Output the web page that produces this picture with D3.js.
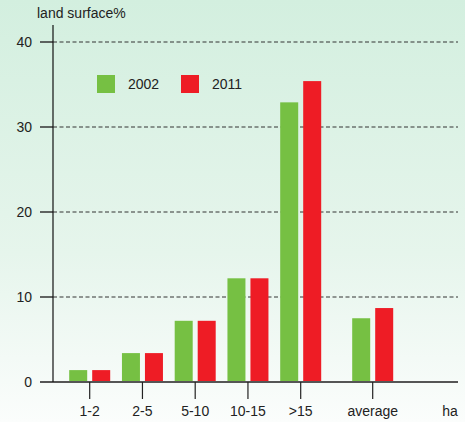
<!DOCTYPE html>
<html>
<head>
<meta charset="utf-8">
<script src="https://cdn.jsdelivr.net/npm/d3@7/dist/d3.min.js"></script>
<style>
  body { margin: 0; padding: 0; }
  svg { display: block; font-family: "Liberation Sans", Arial, sans-serif; }
</style>
</head>
<body>
<svg id="chart" width="465" height="422"></svg>
<script>
// data
var categories = ["1-2", "2-5", "5-10", "10-15", ">15", "average"];
var years = ["2002", "2011"];
var values2002 = [1.4, 3.4, 7.2, 12.2, 32.9, 7.5];
var values2011 = [1.4, 3.4, 7.2, 12.2, 35.4, 8.7];
var yTicks = [0, 10, 20, 30, 40];

var colors = {"2002": "#76c043", "2011": "#ee1c25"};

var width = 465, height = 422;
var fs = 14;
var svg = d3.select("#chart");

// background gradient
var defs = svg.append("defs");
var grad = defs.append("linearGradient")
    .attr("id", "bg")
    .attr("x1", 0).attr("y1", 0).attr("x2", 0).attr("y2", 1);
grad.append("stop").attr("offset", "0%").attr("stop-color", "#d3efdf");
grad.append("stop").attr("offset", "60%").attr("stop-color", "#e6f5ec");
grad.append("stop").attr("offset", "100%").attr("stop-color", "#fbfdfc");
svg.append("rect").attr("width", width).attr("height", height).attr("fill", "url(#bg)");

var y = d3.scaleLinear().domain([0, 40]).range([382, 42]);

// first five groups evenly spaced, "average" sits a bit further out
var x = d3.scalePoint().domain(categories.slice(0, 5)).range([89.7, 300.7]);
function cx(c) {
  if (c == "average") return 372.7;
  return x(c);
}

var barW = 18;

// grid lines
svg.append("g").selectAll("line")
  .data(yTicks.filter(function(d) { return d > 0; }))
  .enter().append("line")
    .attr("x1", 53).attr("x2", 458)
    .attr("y1", function(d) { return y(d); })
    .attr("y2", function(d) { return y(d); })
    .attr("stroke", "#333")
    .attr("stroke-width", 1)
    .attr("stroke-dasharray", "4,2.5");

// y ticks + labels
var yt = svg.append("g");
yt.selectAll("line").data(yTicks).enter().append("line")
    .attr("x1", 40).attr("x2", 53)
    .attr("y1", function(d) { return y(d); })
    .attr("y2", function(d) { return y(d); })
    .attr("stroke", "#333").attr("stroke-width", 1.5);
yt.selectAll("text").data(yTicks).enter().append("text")
    .attr("x", 32)
    .attr("y", function(d) { return y(d); })
    .attr("dy", "0.35em")
    .attr("text-anchor", "end")
    .attr("font-size", fs)
    .attr("fill", "#222")
    .text(function(d) { return d; });

// bars
var bars = svg.append("g");
categories.forEach(function(c, i) {
  var c0 = cx(c);
  bars.append("rect")
    .attr("x", c0 - 20.5).attr("width", barW)
    .attr("y", y(values2002[i])).attr("height", y(0) - y(values2002[i]))
    .attr("fill", colors["2002"]);
  bars.append("rect")
    .attr("x", c0 + 2.5).attr("width", barW)
    .attr("y", y(values2011[i])).attr("height", y(0) - y(values2011[i]))
    .attr("fill", colors["2011"]);
});

// x axis
svg.append("line")
    .attr("x1", 40).attr("x2", 458)
    .attr("y1", y(0)).attr("y2", y(0))
    .attr("stroke", "#555").attr("stroke-width", 2);

var xt = svg.append("g");
xt.selectAll("line").data(categories).enter().append("line")
    .attr("x1", function(d) { return cx(d); })
    .attr("x2", function(d) { return cx(d); })
    .attr("y1", y(0)).attr("y2", 399)
    .attr("stroke", "#222").attr("stroke-width", 1.2);
xt.selectAll("text").data(categories).enter().append("text")
    .attr("x", function(d) { return cx(d); })
    .attr("y", 416)
    .attr("text-anchor", "middle")
    .attr("font-size", fs)
    .attr("fill", "#222")
    .text(function(d) { return d; });

svg.append("text")
    .attr("x", 450).attr("y", 416)
    .attr("text-anchor", "middle")
    .attr("font-size", fs).attr("fill", "#222")
    .text("ha");

// y axis line
svg.append("line")
    .attr("x1", 53).attr("x2", 53)
    .attr("y1", 25).attr("y2", y(0))
    .attr("stroke", "#111").attr("stroke-width", 1.2);

// axis title
svg.append("text")
    .attr("x", 37).attr("y", 18)
    .attr("font-size", fs).attr("fill", "#222")
    .text("land surface%");

// legend
var legend = svg.append("g");
var legX = [97, 181];
years.forEach(function(yr, i) {
  legend.append("rect")
    .attr("x", legX[i]).attr("y", 75)
    .attr("width", 18).attr("height", 18)
    .attr("fill", colors[yr]);
  legend.append("text")
    .attr("x", legX[i] + 31).attr("y", 84)
    .attr("dy", "0.35em")
    .attr("font-size", fs).attr("fill", "#222")
    .text(yr);
});
</script>
</body>
</html>
